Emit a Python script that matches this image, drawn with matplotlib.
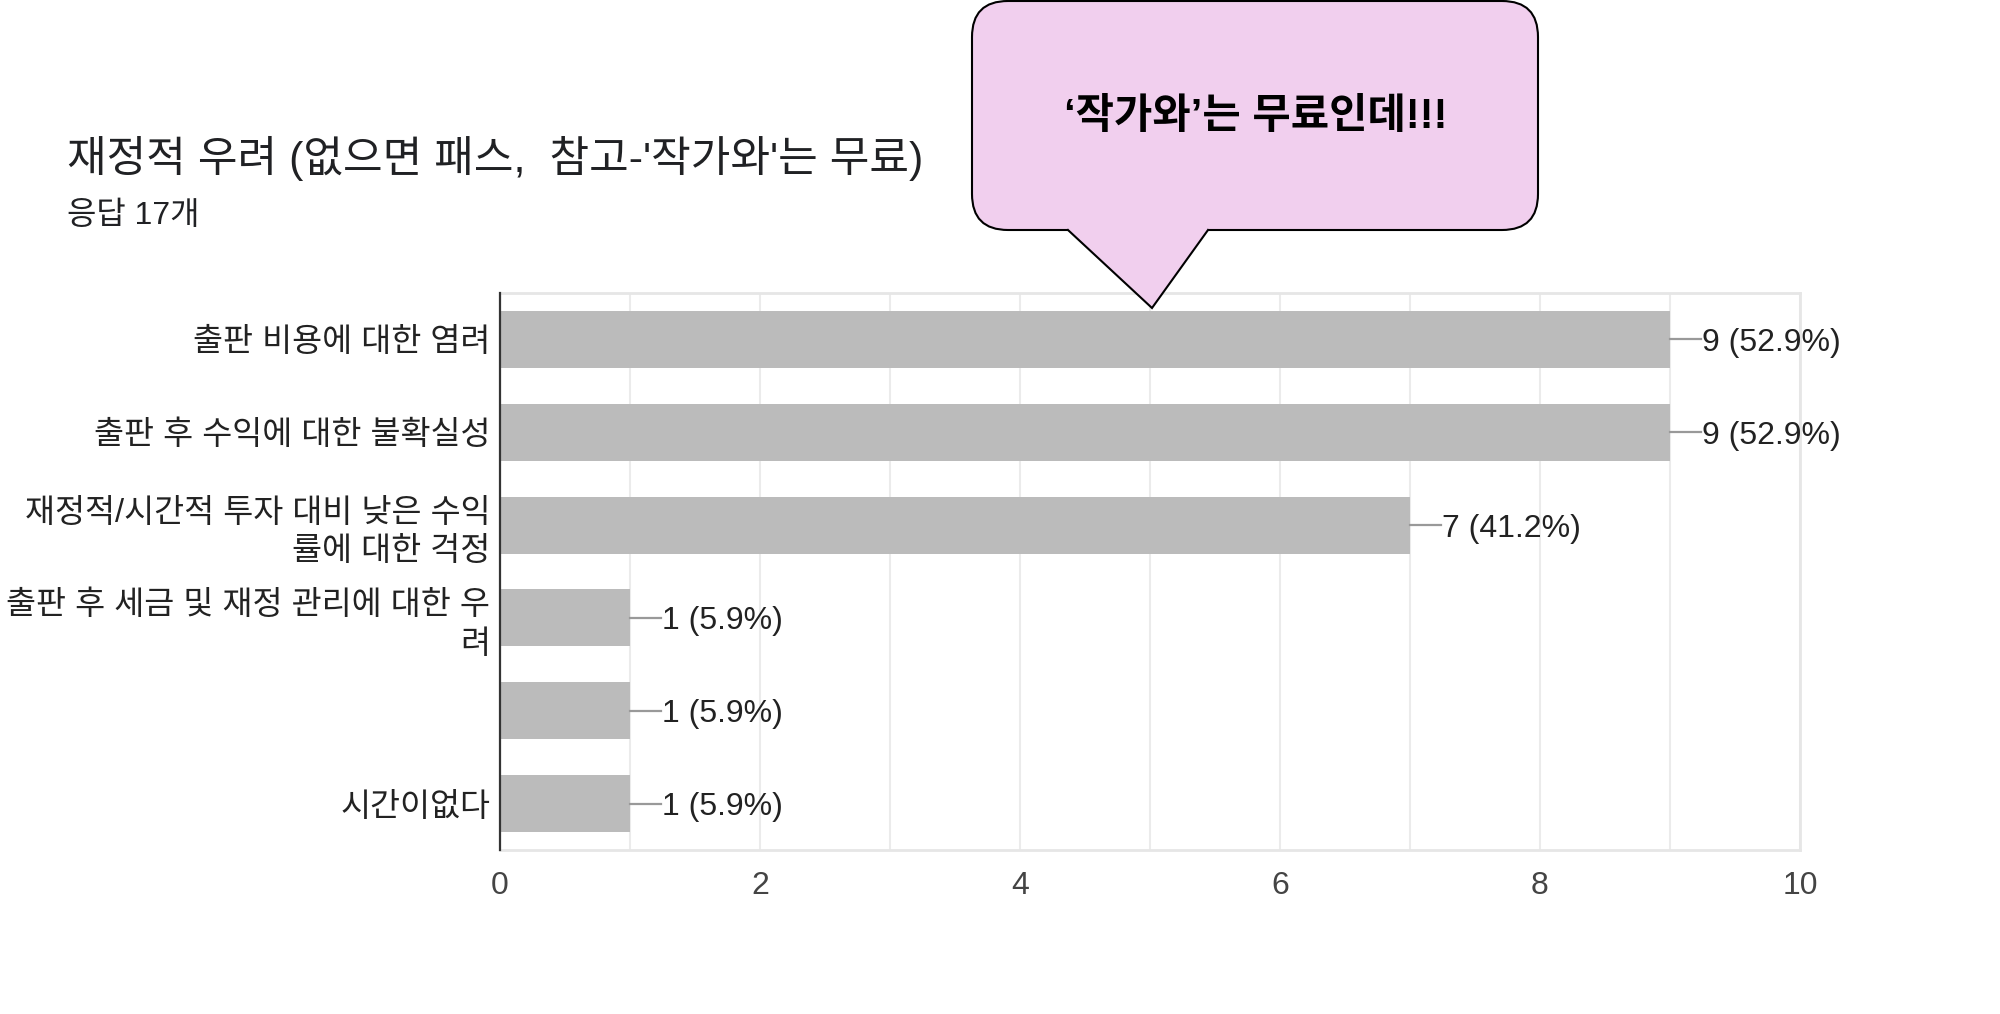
import matplotlib
matplotlib.use("Agg")
import matplotlib.pyplot as plt
from matplotlib.patches import FancyBboxPatch, Polygon

plt.rcParams['font.family'] = ['Liberation Sans', 'Noto Sans CJK KR', 'DejaVu Sans']

# survey data (top to bottom)
categories = [
    "출판 비용에 대한 염려",
    "출판 후 수익에 대한 불확실성",
    "재정적/시간적 투자 대비 낮은 수익\n률에 대한 걱정",
    "출판 후 세금 및 재정 관리에 대한 우\n려",
    "",
    "시간이없다",
]
counts = [9, 9, 7, 1, 1, 1]
total = 17
xticks = [0, 2, 4, 6, 8, 10]

title = "재정적 우려 (없으면 패스,  참고-'작가와'는 무료)"
subtitle = "응답 17개"
callout = "‘작가와’는 무료인데!!!"

W, H = 2000, 1014
fig = plt.figure(figsize=(W / 100, H / 100), dpi=100)
fig.patch.set_facecolor("white")

ax = fig.add_axes([500 / W, 1 - 850 / H, 1300 / W, 557 / H])
ypos = list(range(len(categories)))
ax.barh(ypos, counts, height=0.613, color="#bbbbbb", zorder=3)

for y, c in zip(ypos, counts):
    ax.plot([c, c + 0.24], [y, y], color="#999999", lw=1.6, zorder=3)
    ax.text(c + 0.245, y, f"{c} ({c / total * 100:.1f}%)", va="center_baseline", ha="left",
            fontsize=23, color="#222222", zorder=4)

ax.set_xlim(0, 10)
ax.set_ylim(len(categories) - 0.5, -0.5)
ax.set_xticks(xticks)
ax.set_xticks(range(0, 11), minor=True)
ax.set_yticks(ypos)
ax.set_yticklabels(categories, fontsize=23.5, color="#222222", linespacing=1.3)
ax.tick_params(axis="x", which="both", length=0, pad=15, labelsize=23, labelcolor="#444444")
ax.tick_params(axis="y", length=0, pad=7)
ax.grid(axis="x", which="both", color="#ebebeb", lw=1.5, zorder=0)
for side in ["top", "right", "bottom"]:
    ax.spines[side].set_color("#e6e6e6")
    ax.spines[side].set_linewidth(2)
ax.spines["left"].set_color("#333333")
ax.spines["left"].set_linewidth(1.6)
ax.spines["left"].set_zorder(5)

# overlay in pixel units for title and the speech bubble
ov = fig.add_axes([0, 0, 1, 1], zorder=10)
ov.set_xlim(0, W)
ov.set_ylim(H, 0)
ov.axis("off")
ov.patch.set_alpha(0)

ov.text(67, 158, title, fontsize=31, color="#202124", va="center", ha="left")
ov.text(67, 216, subtitle, fontsize=23, color="#202124", va="center", ha="left")

pink = "#f1cfee"
box = FancyBboxPatch((972, 1), 566, 229, boxstyle="round,pad=0,rounding_size=36",
                     facecolor=pink, edgecolor="black", lw=1.5)
ov.add_patch(box)
tail = [(1068, 230), (1152, 308), (1208, 230)]
ov.add_patch(Polygon([(1069, 226)] + tail + [(1207, 226)], closed=True,
                     facecolor=pink, edgecolor="none"))
ov.plot([p[0] for p in tail], [p[1] for p in tail], color="black", lw=1.5,
        solid_joinstyle="miter")
ov.text(1256, 117, callout, fontsize=30, fontweight="bold", color="black",
        va="center", ha="center")

fig.savefig("out.png", dpi=100)
